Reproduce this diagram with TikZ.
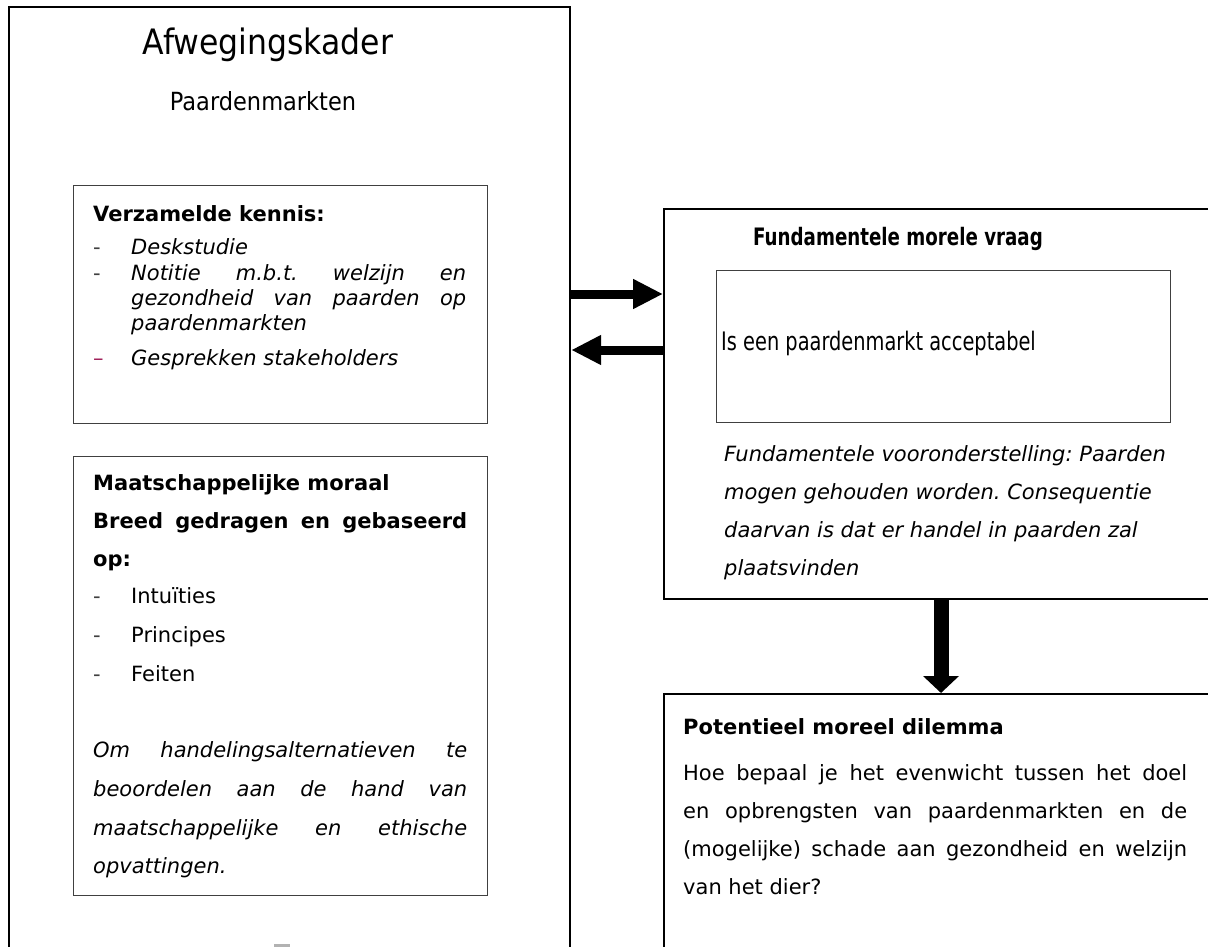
\documentclass[tikz,border=0pt]{standalone}
\usepackage{fontspec}
\setmainfont{DejaVu Sans}
\newfontfamily\condfont[FakeStretch=0.76]{DejaVu Sans}
\newfontfamily\titlefont[FakeStretch=0.9]{DejaVu Sans}
\usetikzlibrary{arrows.meta,calc}
\definecolor{boxgray}{HTML}{404040}
\definecolor{dashpurple}{HTML}{A0205A}
\newcommand\jline[2]{\makebox[#1][s]{#2}}
\begin{document}
\frenchspacing
\begin{tikzpicture}[x=1pt,y=-1pt,
  bigbox/.style={draw=black, line width=2.2pt, inner sep=0pt, anchor=north west},
  smallbox/.style={draw=boxgray, line width=1.4pt, inner sep=0pt, anchor=north west},
  txt/.style={anchor=base west, inner sep=0pt, font=\fontsize{21}{25}\selectfont},
  bodyit/.style={txt, font=\fontsize{21}{25}\selectfont\itshape},
  bodybf/.style={txt, font=\fontsize{21}{25}\selectfont\bfseries},
  condhead/.style={txt, font=\condfont\fontsize{24}{28}\selectfont\bfseries},
  dashmark/.style={txt, text=boxgray},
  blockarrow/.style={line width=9pt, -{Triangle[length=30pt,width=28pt]}},
  downarrow/.style={line width=15pt, -{Triangle[length=17pt,width=35pt]}}
]
\useasboundingbox (0,0) rectangle (1208,947);
\clip (0,0) rectangle (1208,947);
\fill[white] (0,0) rectangle (1208,947);

% boxes
\node[bigbox, minimum width=561pt, minimum height=1000pt] (outer) at (8,6) {};
\node[smallbox, minimum width=414pt, minimum height=238pt] (kennis) at (73,185) {};
\node[smallbox, minimum width=414pt, minimum height=439pt] (moraal) at (73,456) {};
\node[bigbox, minimum width=600pt, minimum height=390pt] (fund) at (663,208) {};
\node[smallbox, minimum width=454pt, minimum height=152pt] (vraag) at (716,270) {};
\node[bigbox, minimum width=600pt, minimum height=320pt] (pot) at (663,693) {};
\node[fill=gray!60, inner sep=0pt, minimum width=16pt, minimum height=4pt, anchor=north west] (mark) at (274,944) {};

% title
\node[txt, anchor=base, font=\titlefont\fontsize{35}{40}\selectfont] (title) at (268,55) {Afwegingskader};
\node[txt, anchor=base, font=\titlefont\fontsize{25}{30}\selectfont] (sub) at (263,111) {Paardenmarkten};

% box 1
\node[bodybf] (k0) at (93,222) {Verzamelde kennis:};
\node[dashmark] (k1d) at (93,254) {-};
\node[bodyit] (k1) at (131,254) {Deskstudie};
\node[dashmark] (k2d) at (93,280) {-};
\node[bodyit] (k2) at (131,280) {\jline{335pt}{Notitie m.b.t. welzijn en}};
\node[bodyit] (k3) at (131,305) {\jline{335pt}{gezondheid van paarden op}};
\node[bodyit] (k4) at (131,330) {paardenmarkten};
\node[txt, text=dashpurple] (k5d) at (93,365) {–};
\node[bodyit] (k5) at (131,365) {Gesprekken stakeholders};

% box 2
\node[bodybf] (m0) at (93,490) {Maatschappelijke moraal};
\node[bodybf] (m1) at (93,528) {\jline{374pt}{Breed gedragen en gebaseerd}};
\node[bodybf] (m2) at (93,566) {op:};
\node[dashmark] (m3d) at (93,603) {-};
\node[txt] (m3) at (131,603) {Intuïties};
\node[dashmark] (m4d) at (93,642) {-};
\node[txt] (m4) at (131,642) {Principes};
\node[dashmark] (m5d) at (93,681) {-};
\node[txt] (m5) at (131,681) {Feiten};
\node[bodyit] (m6) at (93,757) {\jline{374pt}{Om handelingsalternatieven te}};
\node[bodyit] (m7) at (93,796) {\jline{374pt}{beoordelen aan de hand van}};
\node[bodyit] (m8) at (93,835) {\jline{374pt}{maatschappelijke en ethische}};
\node[bodyit] (m9) at (93,873) {opvattingen.};

% fundamental question
\node[condhead, anchor=base] (f0) at (898,245) {Fundamentele morele vraag};
\node[txt, font=\condfont\fontsize{25.5}{30}\selectfont] (f1) at (721,350) {Is een paardenmarkt acceptabel};
\node[bodyit] (f2) at (724,461) {Fundamentele vooronderstelling: Paarden};
\node[bodyit] (f3) at (724,499) {mogen gehouden worden. Consequentie};
\node[bodyit] (f4) at (724,537) {daarvan is dat er handel in paarden zal};
\node[bodyit] (f5) at (724,575) {plaatsvinden};

% dilemma
\node[bodybf] (p0) at (683,734) {Potentieel moreel dilemma};
\node[txt] (p1) at (683,780) {\jline{504pt}{Hoe bepaal je het evenwicht tussen het doel}};
\node[txt] (p2) at (683,818) {\jline{504pt}{en opbrengsten van paardenmarkten en de}};
\node[txt] (p3) at (683,856) {\jline{504pt}{(mogelijke) schade aan gezondheid en welzijn}};
\node[txt] (p4) at (683,894) {van het dier?};

% arrows
\coordinate (a1) at ($(fund.north west)+(0,86)$);
\coordinate (a2) at ($(fund.north west)+(0,142)$);
\coordinate (a3) at ($(fund.south west)+(278,0)$);
\draw[blockarrow] (outer.east |- a1) -- (a1);
\draw[blockarrow] (a2) -- (outer.east |- a2);
\draw[downarrow] (a3) -- (a3 |- pot.north);
\end{tikzpicture}
\end{document}
